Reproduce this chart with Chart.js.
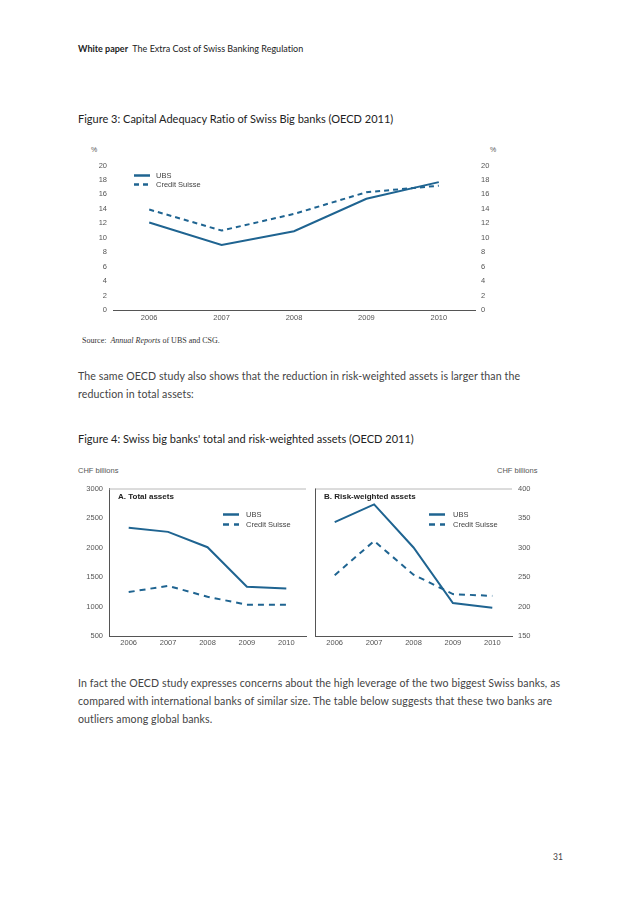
<!DOCTYPE html>
<html>
<head>
<meta charset="utf-8">
<script src="https://cdn.jsdelivr.net/npm/chart.js@4"></script>
<style>
  body { margin: 0; background: #fff; width: 638px; height: 903px; position: relative; overflow: hidden; font-family: Lato, "Open Sans", sans-serif; color: #333; font-variant-ligatures: none; }
  .t { position: absolute; white-space: nowrap; }
  .hdr { left: 78px; top: 43px; font-size: 9px; color: #222; }
  .fig { font-size: 11px; color: #222; }
  .para { left: 78px; font-size: 10.6px; line-height: 18px; color: #444; letter-spacing: 0.1px; }
  .ax { font-family: "Liberation Sans", Arial, sans-serif; font-size: 7px; color: #555; }
  .src { left: 82px; top: 336px; font-family: "Liberation Serif", serif; font-size: 8px; color: #333; }
  .box { position: absolute; }
</style>
</head>
<body>
<div class="t hdr"><b>White paper</b>&nbsp; The Extra Cost of Swiss Banking Regulation</div>
<div class="t fig" style="left:78px;top:112px;">Figure 3: Capital Adequacy Ratio of Swiss Big banks (OECD 2011)</div>

<div class="t ax" style="left:91px;top:146px;">%</div>
<div class="t ax" style="left:490px;top:146px;">%</div>
<div class="box" style="left:70px;top:155px;width:450px;height:175px;"><canvas id="fig3"></canvas></div>
<div class="t src">Source:&nbsp; <i>Annual Reports</i> of UBS and CSG.</div>

<div class="t para" style="top:367px;">The same OECD study also shows that the reduction in risk-weighted assets is larger than the<br>reduction in total assets:</div>

<div class="t fig" style="left:78px;top:432px;">Figure 4: Swiss big banks' total and risk-weighted assets (OECD 2011)</div>

<div class="t ax" style="left:78px;top:466px;font-size:7.5px;">CHF billions</div>
<div class="t ax" style="left:497px;top:466px;font-size:7.5px;">CHF billions</div>
<div class="box" style="left:70px;top:478px;width:240px;height:175px;"><canvas id="fig4a"></canvas></div>
<div class="box" style="left:311px;top:478px;width:240px;height:175px;"><canvas id="fig4b"></canvas></div>

<div class="t para" style="top:674px;">In fact the OECD study expresses concerns about the high leverage of the two biggest Swiss banks, as<br>compared with international banks of similar size. The table below suggests that these two banks are<br>outliers among global banks.</div>

<div class="t" style="left:553px;top:852px;font-size:8.5px;color:#444;">31</div>

<script>
const years = ['2006', '2007', '2008', '2009', '2010'];
const seriesNames = ['UBS', 'Credit Suisse'];

// Figure 3: capital adequacy ratio, %
const carUBS = [12.1, 9.0, 10.9, 15.4, 17.7];
const carCS = [13.9, 11.0, 13.3, 16.3, 17.2];

// Figure 4A: total assets, CHF billions
const totalUBS = [2335, 2265, 2005, 1335, 1305];
const totalCS = [1245, 1350, 1165, 1030, 1030];

// Figure 4B: risk-weighted assets, CHF billions
const rwaUBS = [343, 373, 300, 206, 198];
const rwaCS = [253, 311, 254, 221, 218];

const blue = '#1f6491';
Chart.defaults.font.family = '"Liberation Sans", Arial, sans-serif';
Chart.defaults.font.size = 7.5;
Chart.defaults.color = '#555';

// draws panel frame lines, panel title and the little legend inside the plot
const panelDecor = {
    id: 'panelDecor',
    afterDraw(chart, args, opts) {
        var ctx = chart.ctx, a = chart.chartArea;
        ctx.save();
        ctx.lineWidth = 1;
        if (opts.topLine) {
            ctx.strokeStyle = '#b8b8b8';
            ctx.beginPath(); ctx.moveTo(a.left, a.top + 0.5); ctx.lineTo(a.right, a.top + 0.5); ctx.stroke();
        }
        if (opts.leftLine) {
            ctx.strokeStyle = '#555';
            ctx.beginPath(); ctx.moveTo(a.left + 0.5, a.top); ctx.lineTo(a.left + 0.5, a.bottom); ctx.stroke();
        }
        if (opts.title) {
            ctx.fillStyle = '#222';
            ctx.font = 'bold 8px "Liberation Sans", Arial, sans-serif';
            ctx.textBaseline = 'middle';
            ctx.fillText(opts.title, a.left + 9, a.top + 8);
        }
        var lg = opts.legend;
        chart.data.datasets.forEach(function (ds, i) {
            var y = a.top + lg.y + i * lg.gap;
            var x = a.left + lg.x;
            ctx.strokeStyle = ds.borderColor;
            ctx.lineWidth = 2.5;
            ctx.setLineDash(ds.borderDash || []);
            ctx.beginPath(); ctx.moveTo(x, y); ctx.lineTo(x + 16, y); ctx.stroke();
            ctx.setLineDash([]);
            ctx.fillStyle = '#444';
            ctx.font = '7.5px "Liberation Sans", Arial, sans-serif';
            ctx.textBaseline = 'middle';
            ctx.fillText(ds.label, x + lg.text, y);
        });
        ctx.restore();
    }
};

function makeSets(a, b, dash) {
    return [{
        label: seriesNames[0], data: a, borderColor: blue, borderWidth: 2,
        pointRadius: 0, tension: 0, fill: false
    }, {
        label: seriesNames[1], data: b, borderColor: blue, borderWidth: 2,
        borderDash: dash, pointRadius: 0, tension: 0, fill: false
    }];
}

function yAxis(pos, min, max, step, w, border) {
    return {
        position: pos, min: min, max: max,
        ticks: { stepSize: step, padding: 6, color: '#555', callback: function (v) { return String(v); } },
        grid: { display: false, drawTicks: false },
        border: { display: border, color: '#555' },
        afterFit: function (s) { s.width = w; }
    };
}

function xAxis(h, pad) {
    return {
        offset: true,
        grid: { display: false, drawTicks: false },
        border: { display: true, color: '#555' },
        ticks: { padding: pad, color: '#555', maxRotation: 0 },
        afterFit: function (s) { s.height = h; }
    };
}

new Chart(document.getElementById('fig3'), {
    type: 'line',
    data: { labels: years, datasets: makeSets(carUBS, carCS, [5, 4]) },
    options: {
        responsive: true, maintainAspectRatio: false, animation: false,
        layout: { padding: { top: 7 } },
        plugins: {
            legend: { display: false }, tooltip: { enabled: false },
            panelDecor: { legend: { x: 21, y: 10, gap: 9, text: 22 } }
        },
        scales: {
            x: xAxis(20, 3),
            y: yAxis('left', 0, 20, 2, 43, false),
            y2: yAxis('right', 0, 20, 2, 45, false)
        }
    },
    plugins: [panelDecor]
});

new Chart(document.getElementById('fig4a'), {
    type: 'line',
    data: { labels: years, datasets: makeSets(totalUBS, totalCS, [6, 5]) },
    options: {
        responsive: true, maintainAspectRatio: false, animation: false,
        layout: { padding: { top: 5, right: 4 } },
        plugins: {
            legend: { display: false }, tooltip: { enabled: false },
            panelDecor: { title: 'A. Total assets', topLine: true, legend: { x: 114, y: 26, gap: 10, text: 23 } }
        },
        scales: {
            x: xAxis(17, 2),
            y: yAxis('left', 500, 3000, 500, 39, true)
        }
    },
    plugins: [panelDecor]
});

new Chart(document.getElementById('fig4b'), {
    type: 'line',
    data: { labels: years, datasets: makeSets(rwaUBS, rwaCS, [6, 5]) },
    options: {
        responsive: true, maintainAspectRatio: false, animation: false,
        layout: { padding: { top: 5, left: 4 } },
        plugins: {
            legend: { display: false }, tooltip: { enabled: false },
            panelDecor: { title: 'B. Risk-weighted assets', topLine: true, leftLine: true, legend: { x: 114, y: 26, gap: 10, text: 24 } }
        },
        scales: {
            x: xAxis(17, 2),
            y: yAxis('right', 150, 400, 50, 39, false)
        }
    },
    plugins: [panelDecor]
});
</script>
</body>
</html>
